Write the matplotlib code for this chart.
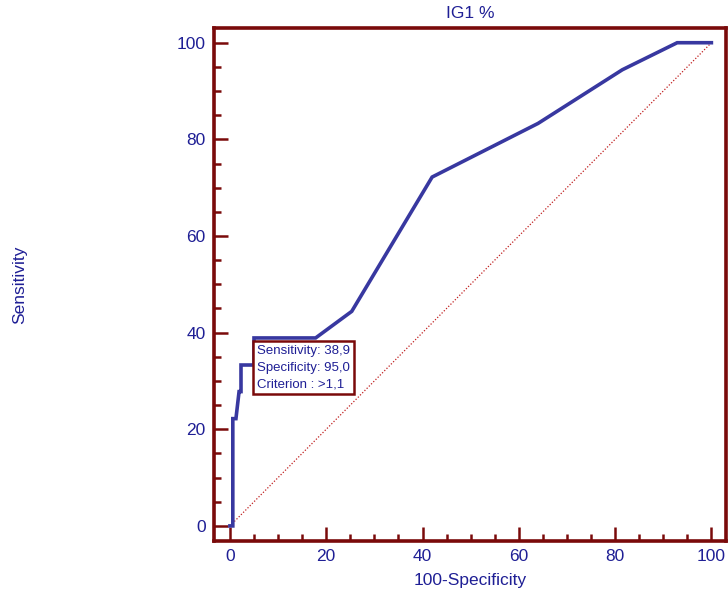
"""ROC curve for IG1 % with the selected cut-off point."""

import matplotlib
matplotlib.use('Agg')
import matplotlib.pyplot as plt
from matplotlib.ticker import MultipleLocator

# ROC coordinates: 100-specificity (x) vs sensitivity (y)
fpr = [0, 0.6, 0.6, 1.25, 1.9, 2.3, 2.3, 5.0, 5.0, 17.8, 25.3, 42.0, 64.0, 81.5, 92.9, 100]
tpr = [0, 0, 22.2, 22.2, 27.8, 27.8, 33.3, 33.3, 38.9, 38.9, 44.4, 72.2, 83.3, 94.4, 100, 100]

cut_sens = 38.9
cut_spec = 95.0
cut_crit = ">1,1"

text_blue = '#1f1f95'
curve_blue = '#3838a0'
frame_red = '#7a0a0a'

plt.rcParams['font.family'] = ['Liberation Sans', 'DejaVu Sans']

fig = plt.figure(figsize=(7.28, 6.03), dpi=100)
ax = fig.add_axes([0.294, 0.103, 0.703, 0.851])

ax.plot([0, 100], [0, 100], linestyle=(0, (1, 1.5)), color='#c02020', linewidth=0.9)
ax.plot(fpr, tpr, color=curve_blue, linewidth=2.6, solid_joinstyle='miter')

ax.set_xlim(-3.3, 103)
ax.set_ylim(-3.1, 103.1)

for side in ['left', 'bottom', 'top', 'right']:
    ax.spines[side].set_color(frame_red)
    ax.spines[side].set_linewidth(2.6)

ax.xaxis.set_major_locator(MultipleLocator(20))
ax.xaxis.set_minor_locator(MultipleLocator(5))
ax.yaxis.set_major_locator(MultipleLocator(20))
ax.yaxis.set_minor_locator(MultipleLocator(5))
ax.tick_params(which='both', direction='in', color=frame_red, width=1.8,
               top=False, right=False, labelcolor=text_blue, labelsize=12.5, pad=6)
ax.tick_params(which='major', length=10)
ax.tick_params(which='minor', length=5)

ax.set_title('IG1 %', color=text_blue, fontsize=12.5, pad=7)
ax.set_xlabel('100-Specificity', color=text_blue, fontsize=12.5, labelpad=6)
ax.set_ylabel('Sensitivity', color=text_blue, fontsize=12.5)
ax.yaxis.set_label_coords(-0.365, 0.5)

label = (f"Sensitivity: {cut_sens:.1f}\nSpecificity: {cut_spec:.1f}\n"
         f"Criterion : {cut_crit}").replace('.', ',')
ax.annotate(label, xy=(100 - cut_spec, cut_sens), xytext=(5.7, 37.4),
            textcoords='data', ha='left', va='top', fontsize=9.5,
            color=text_blue, linespacing=1.5,
            bbox=dict(boxstyle='square,pad=0.3', facecolor='white',
                      edgecolor=frame_red, linewidth=1.8))

fig.savefig('out.png', dpi=100, facecolor='white')
